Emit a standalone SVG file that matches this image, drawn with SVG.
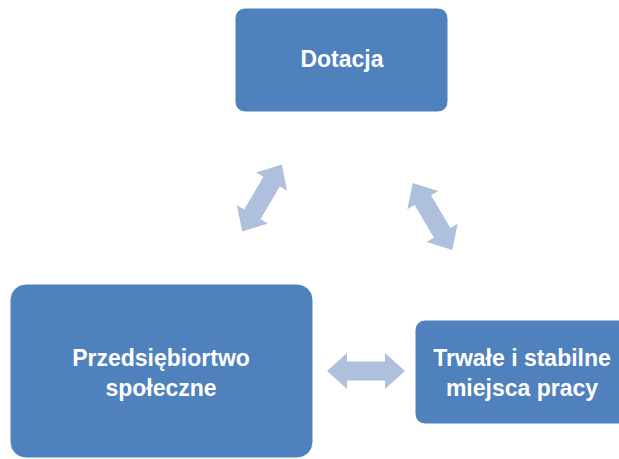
<svg xmlns="http://www.w3.org/2000/svg" width="619" height="459" viewBox="0 0 619 459">
<defs>
<style>
.box{fill:#4f81bd;stroke:#ffffff;stroke-width:1}
.lbl{font-family:"Liberation Sans",Arial,sans-serif;font-weight:bold;font-size:23px;fill:#ffffff;text-anchor:middle}
.arr{fill:#afc0dc}
</style>
<polygon id="dbl" points="-39,0 -19,-18 -19,-9.5 19,-9.5 19,-18 39,0 19,18 19,9.5 -19,9.5 -19,18"/>
</defs>
<rect width="619" height="459" fill="#ffffff"/>
<g id="connectors">
<use href="#dbl" class="arr" transform="translate(262,198) rotate(-59.5)"/>
<use href="#dbl" class="arr" transform="translate(432.5,216.5) rotate(59.5)"/>
<use href="#dbl" class="arr" transform="translate(366,371)"/>
</g>
<g id="dotacja">
<rect class="box" x="235" y="8" width="213" height="104" rx="10"/>
<text class="lbl" x="342" y="67">Dotacja</text>
</g>
<g id="przedsiebiorstwo">
<rect class="box" x="10" y="284" width="303" height="174" rx="16"/>
<text class="lbl" x="161" y="366">Przedsiębiortwo</text>
<text class="lbl" x="161" y="396">społeczne</text>
</g>
<g id="miejsca">
<rect class="box" x="415" y="320" width="220" height="104" rx="10"/>
<text class="lbl" x="522" y="366">Trwałe i stabilne</text>
<text class="lbl" x="522" y="396">miejsca pracy</text>
</g>
</svg>
